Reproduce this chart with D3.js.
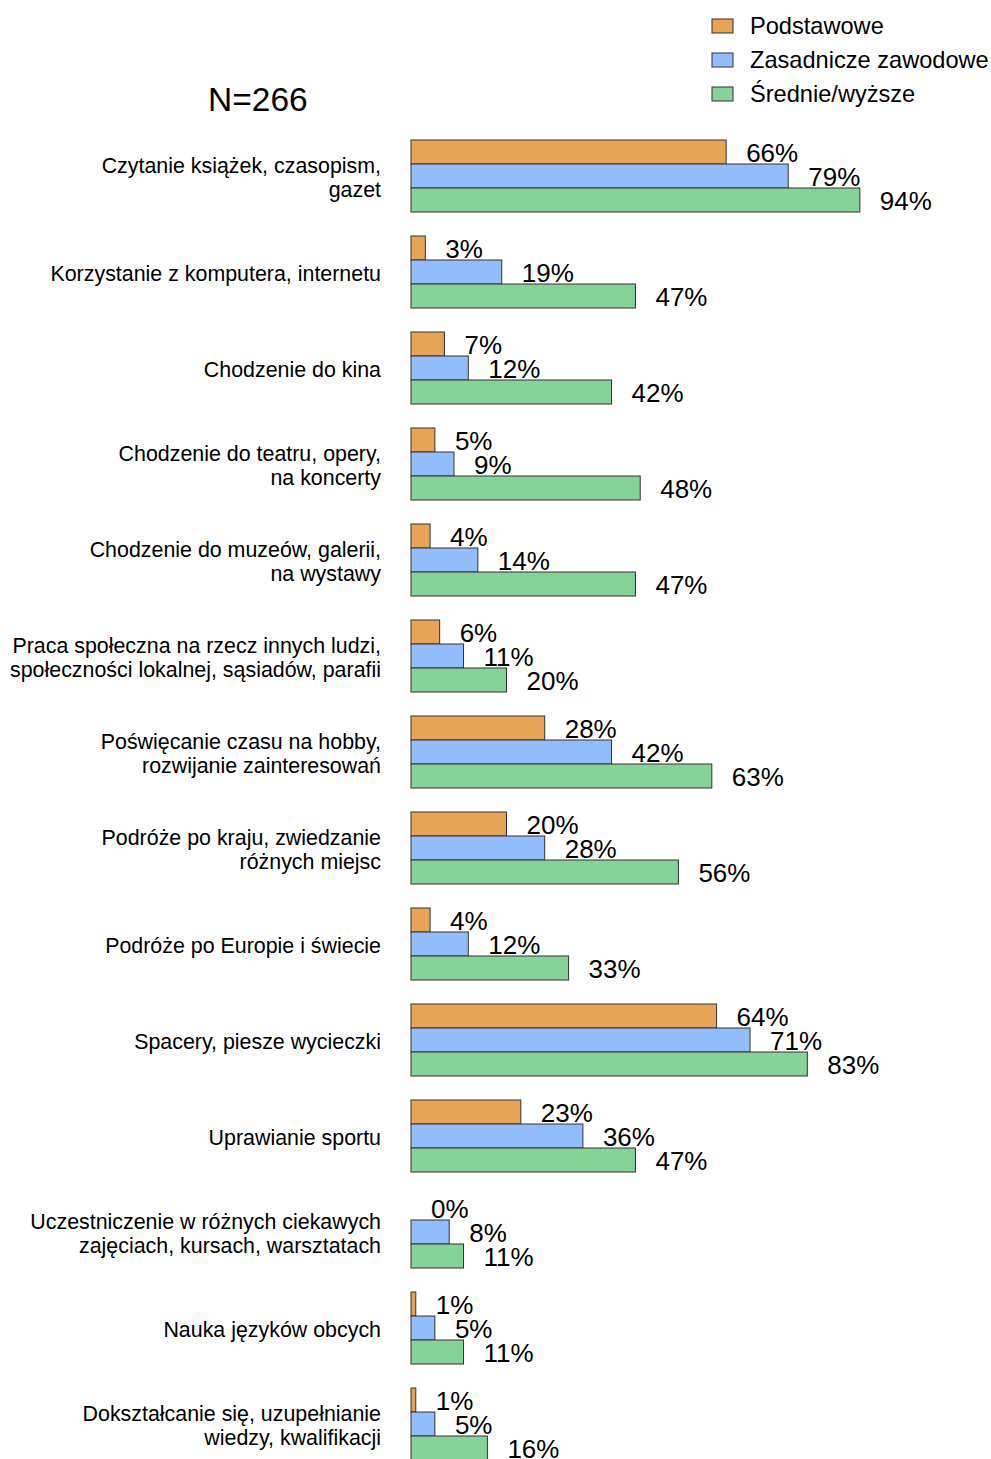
<!DOCTYPE html>
<html>
<head>
<meta charset="utf-8">
<script src="https://cdn.jsdelivr.net/npm/d3@7"></script>
<style>
  body { margin: 0; background: #fff; }
  svg text { font-family: "Liberation Sans", Arial, sans-serif; fill: #000; }
</style>
</head>
<body>
<script>
var width = 991,
    height = 1459;

// categories, each split into the lines shown on the chart
var categories = [
  ["Czytanie książek, czasopism,", "gazet"],
  ["Korzystanie z komputera, internetu"],
  ["Chodzenie do kina"],
  ["Chodzenie do teatru, opery,", "na koncerty"],
  ["Chodzenie do muzeów, galerii,", "na wystawy"],
  ["Praca społeczna na rzecz innych ludzi,", "społeczności lokalnej, sąsiadów, parafii"],
  ["Poświęcanie czasu na hobby,", "rozwijanie zainteresowań"],
  ["Podróże po kraju, zwiedzanie", "różnych miejsc"],
  ["Podróże po Europie i świecie"],
  ["Spacery, piesze wycieczki"],
  ["Uprawianie sportu"],
  ["Uczestniczenie w różnych ciekawych", "zajęciach, kursach, warsztatach"],
  ["Nauka języków obcych"],
  ["Dokształcanie się, uzupełnianie", "wiedzy, kwalifikacji"]
];

var seriesNames = ["Podstawowe", "Zasadnicze zawodowe", "Średnie/wyższe"];
var seriesColors = ["#e8a456", "#93bcfb", "#86d298"];

var podstawowe = [66, 3, 7, 5, 4, 6, 28, 20, 4, 64, 23, 0, 1, 1];
var zasadnicze = [79, 19, 12, 9, 14, 11, 42, 28, 12, 71, 36, 8, 5, 5];
var srednie    = [94, 47, 42, 48, 47, 20, 63, 56, 33, 83, 47, 11, 11, 16];

var series = [podstawowe, zasadnicze, srednie];

var svg = d3.select("body").append("svg")
    .attr("width", width)
    .attr("height", height);

var x = d3.scaleLinear()
    .domain([0, 100])
    .range([411, 888.5]);

var y0 = d3.scaleBand()
    .domain(d3.range(categories.length))
    .range([140, 1460])
    .paddingInner(0.25)
    .paddingOuter(0);

var y1 = d3.scaleBand()
    .domain(d3.range(series.length))
    .range([0, y0.bandwidth()]);

var groups = svg.selectAll("g.group")
    .data(categories)
  .enter().append("g")
    .attr("class", "group")
    .attr("transform", function(d, i) { return "translate(0," + y0(i) + ")"; });

// category labels
groups.append("text")
    .attr("text-anchor", "end")
    .attr("font-size", 21.4)
    .selectAll("tspan")
    .data(function(d) { return d; })
  .enter().append("tspan")
    .attr("x", 381)
    .attr("y", function(d, j, nodes) {
      var n = nodes.length;
      return y0.bandwidth() / 2 + 1.5 + (j - (n - 1) / 2) * 24;
    })
    .attr("dy", "0.35em")
    .text(function(d) { return d; });

// bars
groups.each(function(d, i) {
  var g = d3.select(this);
  series.forEach(function(s, k) {
    var v = s[i];
    if (v > 0) {
      g.append("rect")
        .attr("x", x(0))
        .attr("y", y1(k))
        .attr("width", x(v) - x(0))
        .attr("height", y1.bandwidth())
        .attr("fill", seriesColors[k])
        .attr("stroke", "#333")
        .attr("stroke-width", 1);
    }
  });
  series.forEach(function(s, k) {
    var v = s[i];
    g.append("text")
      .attr("x", x(v) + 20)
      .attr("y", y1(k) + y1.bandwidth() - 2)
      .attr("font-size", 26)
      .text(v + "%");
  });
});

// N label
svg.append("text")
    .attr("x", 208)
    .attr("y", 111)
    .attr("font-size", 33.5)
    .text("N=266");

// legend
var legend = svg.selectAll("g.legend")
    .data(seriesNames)
  .enter().append("g")
    .attr("class", "legend")
    .attr("transform", function(d, i) { return "translate(712," + (19 + i * 34) + ")"; });

legend.append("rect")
    .attr("width", 21)
    .attr("height", 14)
    .attr("fill", function(d, i) { return seriesColors[i]; })
    .attr("stroke", "#333")
    .attr("stroke-width", 1);

legend.append("text")
    .attr("x", 38)
    .attr("y", 7)
    .attr("dy", "0.35em")
    .attr("font-size", 23.6)
    .text(function(d) { return d; });
</script>
</body>
</html>
